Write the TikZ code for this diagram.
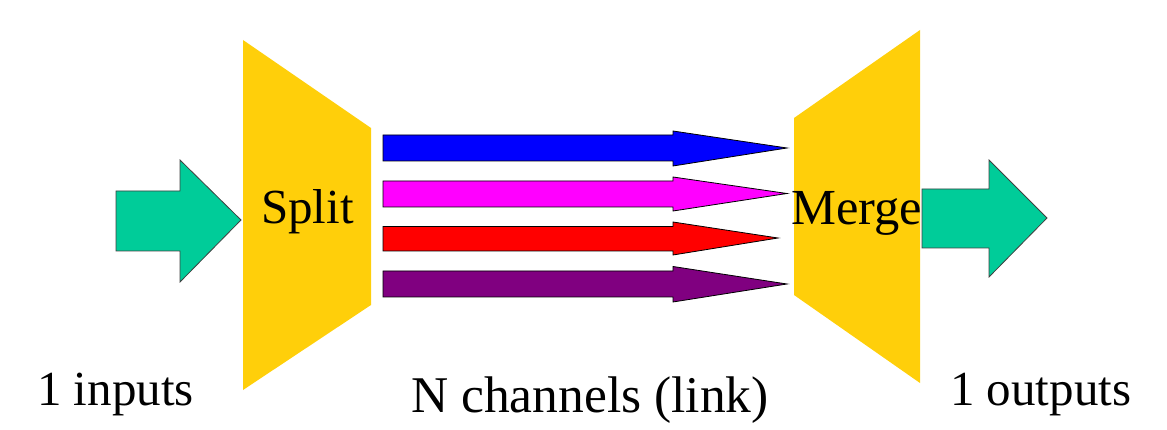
\documentclass[tikz,border=0pt]{standalone}
\usepackage{fontspec}
\setmainfont{Liberation Serif}
\definecolor{boxyellow}{RGB}{255,207,10}
\definecolor{arrgreen}{RGB}{0,204,153}
\definecolor{chblue}{RGB}{0,0,255}
\definecolor{chmagenta}{RGB}{255,0,255}
\definecolor{chred}{RGB}{255,0,0}
\definecolor{chpurple}{RGB}{128,0,128}
\tikzset{
  funnel/.style={fill=boxyellow, draw=none},
  bigarrow/.style={fill=arrgreen, draw=black!75, line width=0.8pt, line join=miter},
  charrow/.style={draw=black, line width=0.8pt, line join=miter},
  lbl/.style={inner sep=0pt, anchor=base west, font=\fontsize{49}{55}\selectfont},
}
\begin{document}
\begin{tikzpicture}[x=1pt, y=-1pt]
\useasboundingbox (0,0) rectangle (1167,430);
% split and merge
\fill[funnel] (243,40) -- (371,128) -- (371,305) -- (243,390) -- cycle;
\fill[funnel] (794,118) -- (920,30) -- (920,383) -- (794,295) -- cycle;
% input arrow
\path[bigarrow] (116,191) -- (180,191) -- (180,160) -- (241,220) -- (180,282) -- (180,251) -- (116,251) -- cycle;
% channel arrows
\path[charrow, fill=chblue] (383,135) -- (673,135) -- (673,131) -- (787,148) -- (673,166) -- (673,161) -- (383,161) -- cycle;
\path[charrow, fill=chmagenta] (383,181) -- (673,181) -- (673,177) -- (787,193.5) -- (673,211) -- (673,207) -- (383,207) -- cycle;
\path[charrow, fill=chred] (383,226.5) -- (673,226.5) -- (673,222) -- (778,238) -- (673,255) -- (673,251) -- (383,251) -- cycle;
\path[charrow, fill=chpurple] (383,271) -- (673,271) -- (673,266.5) -- (787,284) -- (673,302) -- (673,297) -- (383,297) -- cycle;
% output arrow
\path[bigarrow] (922,189) -- (989,189) -- (989,160) -- (1047,218) -- (989,277) -- (989,248) -- (922,248) -- cycle;
% labels
\node[lbl] (split) at (261,223.5) {Split};
\node[lbl, font=\fontsize{50.5}{55}\selectfont] (merge) at (791,225) {Merge};
\node[lbl] (in) at (37,405) {1 inputs};
\node[lbl, font=\fontsize{51.5}{58}\selectfont] (ch) at (411,412.5) {N channels (link)};
\node[lbl] (out) at (950,405) {1 outputs};
\end{tikzpicture}
\end{document}
